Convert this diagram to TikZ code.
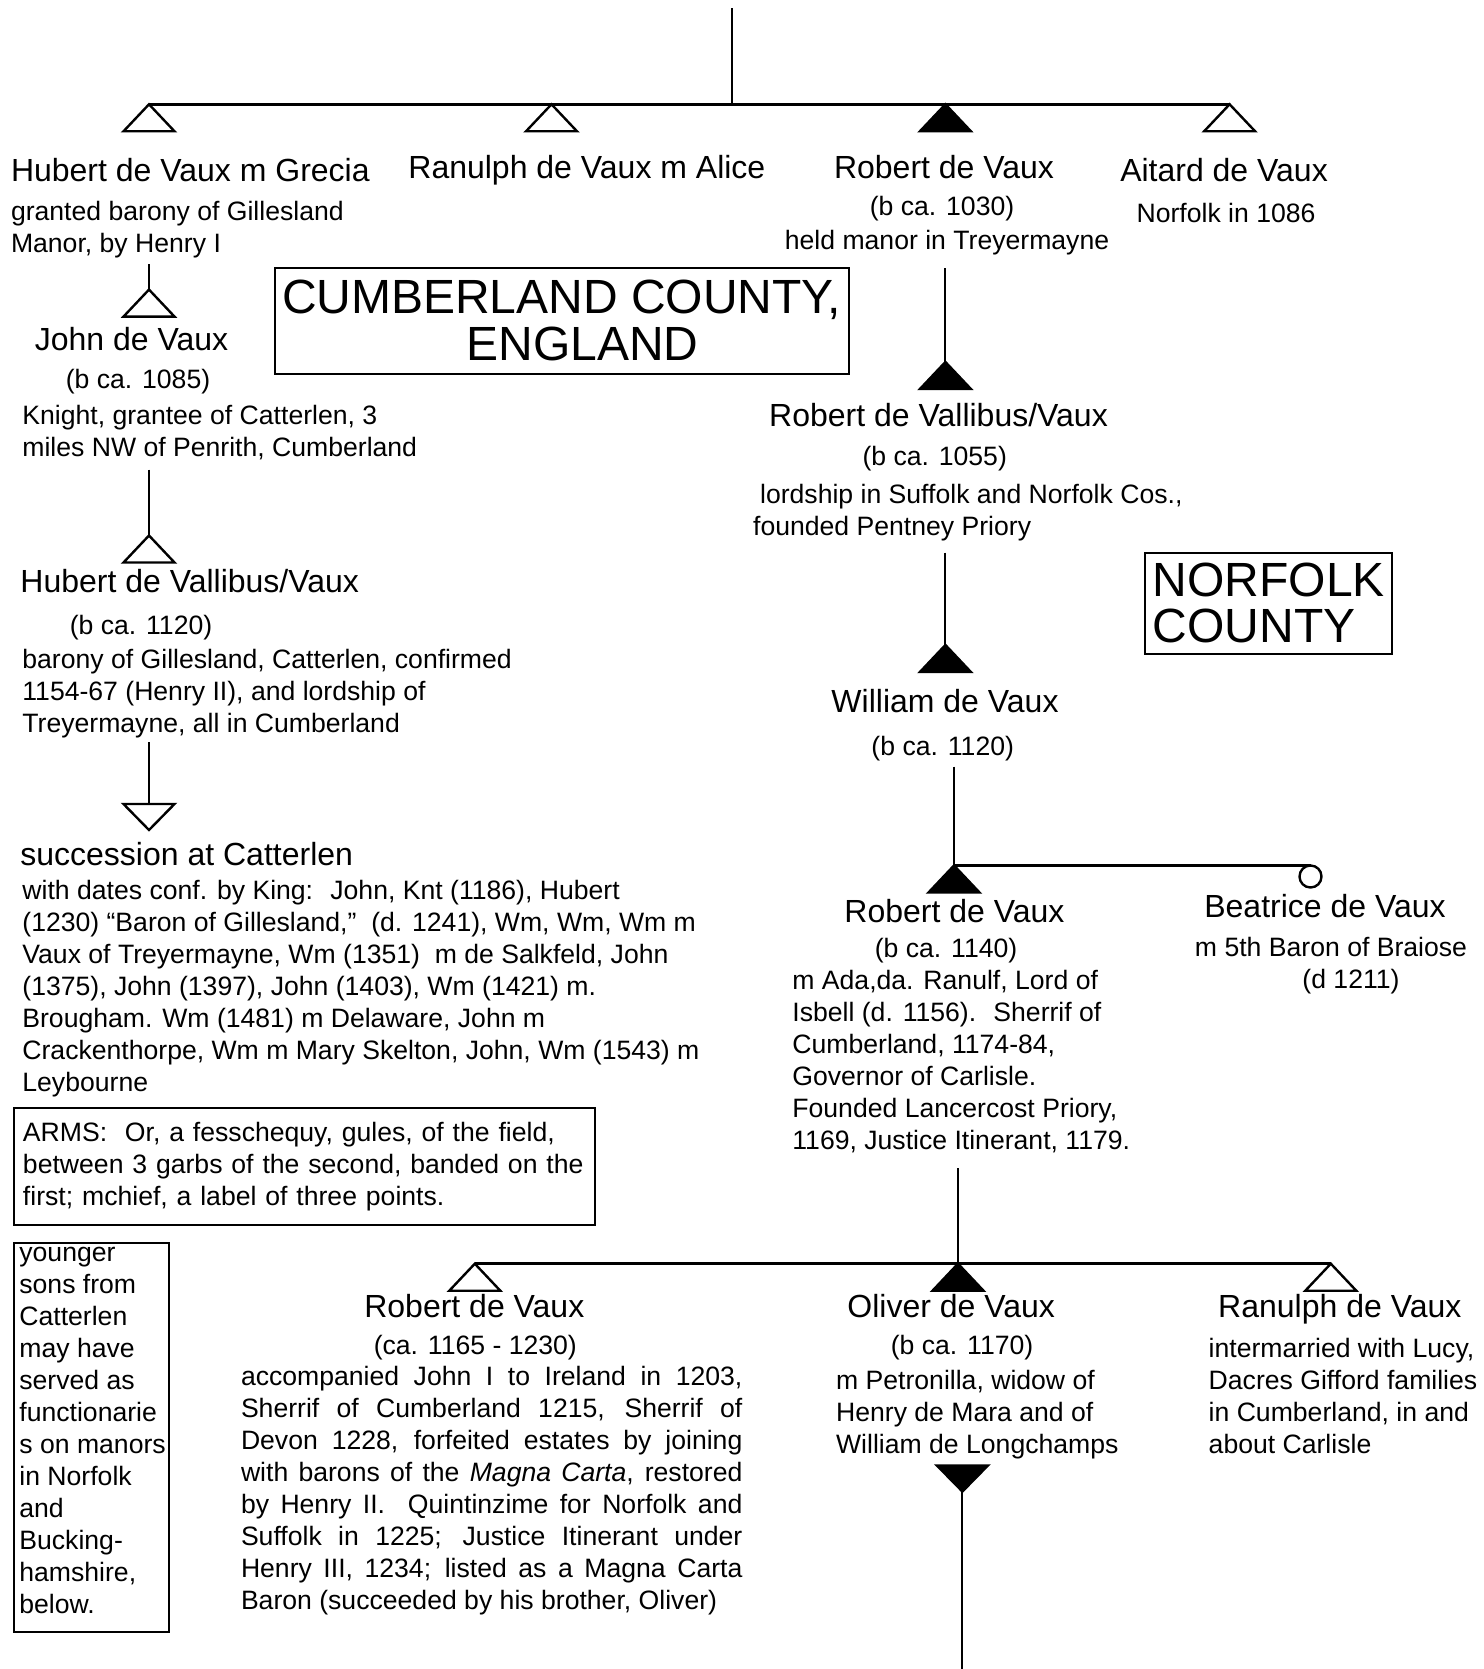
\documentclass[tikz,border=0pt]{standalone}
\usepackage{fontspec}
\setmainfont{Liberation Sans}

\tikzset{
  person/.style={font=\fontsize{16}{19.2}\selectfont, inner sep=0pt, text height=11.8pt, text depth=3.4pt, yshift=-1.6pt},
  detail/.style={font=\fontsize{13.3}{16}\selectfont, inner sep=0pt, text height=9.8pt, text depth=2.8pt, yshift=-1.6pt},
  notes/.style={font=\fontsize{13.3}{16}\selectfont, inner sep=0pt, align=left, anchor=north west, yshift=-1.1pt},
  justnotes/.style={font=\fontsize{13.3}{16}\selectfont, execute at begin node={\tolerance=10000\hyphenpenalty=10000\relax},
    inner sep=0pt, text width=250.7pt, align=justify, anchor=north west, yshift=-1.1pt},
  county/.style={draw, line width=1pt, font=\fontsize{24}{23.4}\selectfont},
  framed/.style={draw, line width=1pt, anchor=north west},
  link/.style={line width=1pt},
  sibbar/.style={line width=1.6pt},
  % pedigree marks
  sonopen/.pic={\draw[line width=1.2pt, fill=white] (0,0) -- (-25.5,27) -- (25.5,27) -- cycle;
    \coordinate (-apex) at (0,0);},
  sonfilled/.pic={\draw[line width=1.2pt, fill=black] (0,0) -- (-25.5,27) -- (25.5,27) -- cycle;
    \coordinate (-apex) at (0,0);},
  heirdown/.pic={\draw[line width=1.2pt, fill=white] (0,0) -- (-25.5,-26) -- (25.5,-26) -- cycle;
    \coordinate (-apex) at (0,0); \coordinate (-base) at (0,-26);},
  heirfilled/.pic={\draw[line width=1.2pt, fill=black] (0,0) -- (-25.5,-26) -- (25.5,-26) -- cycle;
    \coordinate (-apex) at (0,0); \coordinate (-base) at (0,-26);},
  daughter/.pic={\draw[line width=1.2pt, fill=white] (0,11) circle[radius=11];
    \coordinate (-top) at (0,0);},
}

\begin{document}
\begin{tikzpicture}[x=0.5pt, y=-0.5pt]
\useasboundingbox (0,0) rectangle (1483,1669);

% first generation
\coordinate (root) at (732,8.5);
\pic (t-hubert) at (149,104.3) {sonopen};
\pic (t-ranulph) at (551.5,104.3) {sonopen};
\pic (t-robert) at (945.4,104.3) {sonfilled};
\pic (t-aitard) at (1229.6,104.3) {sonopen};
\draw[sibbar] (t-hubert-apex) -- (t-aitard-apex);
\draw[link] (root) -- (root |- t-hubert-apex);

\node[person, anchor=west] (n-hubert) at (10.6,170) {Hubert de Vaux m Grecia};
\node[notes] (i-hubert) at (10.6,198.5) {granted barony of Gillesland\\Manor, by Henry I};
\node[person, anchor=west] (n-ranulph) at (408,167) {Ranulph de Vaux m Alice};
\node[person] (n-robert) at (944,167) {Robert de Vaux};
\node[detail] (d-robert) at (942,205.5) {(b ca. 1030)};
\node[detail] (i-robert) at (947,239.5) {held manor in Treyermayne};
\node[person] (n-aitard) at (1224,170) {Aitard de Vaux};
\node[detail] (i-aitard) at (1226,212) {Norfolk in 1086};

\node[county, minimum width=286.9pt, minimum height=52.9pt, align=center] (cumberland) at (561.6,320.8)
  {CUMBERLAND COUNTY,\\\hspace*{21pt}ENGLAND};
\node[county, anchor=north west, minimum width=123.5pt, minimum height=50.5pt, align=left] (norfolk) at (1144.4,551.5)
  {NORFOLK\\COUNTY};

% Catterlen line
\coordinate (c-hubert) at (149,264);
\pic (t-john) at (149,289.6) {sonopen};
\draw[link] (c-hubert) -- (t-john-apex);
\node[person] (n-john) at (131.5,338.5) {John de Vaux};
\node[detail] (d-john) at (138,378) {(b ca. 1085)};
\node[notes] (i-john) at (22,402.5) {Knight, grantee of Catterlen, 3\\miles NW of Penrith, Cumberland};

\coordinate (c-john) at (149,469.5);
\pic (t-hubert2) at (149,535.5) {sonopen};
\draw[link] (c-john) -- (t-hubert2-apex);
\node[person, anchor=west] (n-hubert2) at (20,581) {Hubert de Vallibus/Vaux};
\node[detail] (d-hubert2) at (141,624) {(b ca. 1120)};
\node[notes] (i-hubert2) at (22,646.5) {barony of Gillesland, Catterlen, confirmed\\1154-67 (Henry II), and lordship of\\Treyermayne, all in Cumberland};

\coordinate (c-hubert2) at (149,742);
\pic (t-succ) at (149,830) {heirdown};
\draw[link] (c-hubert2) -- (t-succ-base);
\node[person, anchor=west] (n-succ) at (20,854) {succession at Catterlen};
\node[notes] (i-succ) at (22,877.5) {with dates conf. by King: \ John, Knt (1186), Hubert\\(1230) “Baron of Gillesland,” \ (d. 1241), Wm, Wm, Wm m\\Vaux of Treyermayne, Wm (1351) \ m de Salkfeld, John\\(1375), John (1397), John (1403), Wm (1421) m.\\Brougham. Wm (1481) m Delaware, John m\\Crackenthorpe, Wm m Mary Skelton, John, Wm (1543) m\\Leybourne};

\node[framed, notes, draw, inner xsep=4.6pt, minimum width=290.6pt, minimum height=58.5pt, text width=281.4pt, yshift=1.1pt] (arms) at (12.8,1107)
  {ARMS: \ Or, a fesschequy, gules, of the field,\\between 3 garbs of the second, banded on the\\first; mchief, a label of three points.};

\node[framed, minimum width=77.6pt, minimum height=194.5pt, inner sep=0pt] (youngbox) at (12.8,1242) {};
\node[notes] (young) at (19,1245) {younger\\sons from\\Catterlen\\may have\\served as\\functionarie\\s on manors\\in Norfolk\\and\\Bucking-\\hamshire,\\below.};

% Norfolk line
\coordinate (c-robert) at (945.4,268);
\pic (t-robert2) at (945.4,362) {sonfilled};
\draw[link] (c-robert) -- (t-robert2-apex);
\node[person] (n-robert2) at (938.5,415) {Robert de Vallibus/Vaux};
\node[detail] (d-robert2) at (934.7,455.6) {(b ca. 1055)};
\node[notes] (i-robert2) at (752.7,481.5) {\hspace*{3.5pt}lordship in Suffolk and Norfolk Cos.,\\founded Pentney Priory};

\coordinate (c-robert2) at (945.4,552.5);
\pic (t-william) at (945.4,645) {sonfilled};
\draw[link] (c-robert2) -- (t-william-apex);
\node[person] (n-william) at (945,700.5) {William de Vaux};
\node[detail] (d-william) at (942.7,745) {(b ca. 1120)};

\coordinate (c-william) at (954,766.5);
\pic (t-robert3) at (954,865.5) {sonfilled};
\pic (t-beatrice) at (1310.5,865.5) {daughter};
\draw[link] (c-william) -- (t-robert3-apex);
\draw[sibbar] (t-robert3-apex) -- (t-beatrice-top);
\node[person] (n-robert3) at (954.4,911.3) {Robert de Vaux};
\node[detail] (d-robert3) at (946,947.5) {(b ca. 1140)};
\node[notes] (i-robert3) at (792,968) {m Ada,da. Ranulf, Lord of\\Isbell (d. 1156). \ Sherrif of\\Cumberland, 1174-84,\\Governor of Carlisle.\\Founded Lancercost Priory,\\1169, Justice Itinerant, 1179.};
\node[person] (n-beatrice) at (1325,906) {Beatrice de Vaux};
\node[detail] (i-beatrice) at (1331,946.4) {m 5th Baron of Braiose};
\node[detail] (d-beatrice) at (1351,978.4) {(d 1211)};

% sons of Robert
\coordinate (c-robert3) at (958,1168);
\pic (t-robert4) at (474.8,1263.7) {sonopen};
\pic (t-oliver) at (958,1263.7) {sonfilled};
\pic (t-ranulph2) at (1330.8,1263.7) {sonopen};
\draw[sibbar] (t-robert4-apex) -- (t-ranulph2-apex);
\draw[link] (c-robert3) -- (t-oliver-apex);

\node[person] (n-robert4) at (474.3,1306) {Robert de Vaux};
\node[detail] (d-robert4) at (475.3,1344.6) {(ca. 1165 - 1230)};
\node[justnotes] (i-robert4) at (240.6,1364) {accompanied John I to Ireland in 1203,\linebreak
  Sherrif of Cumberland 1215, Sherrif of\linebreak
  Devon 1228, forfeited estates by joining\linebreak
  with barons of the \textit{Magna Carta}, restored\linebreak
  by Henry II. \ Quintinzime for Norfolk and\linebreak
  Suffolk in 1225; Justice Itinerant under\linebreak
  Henry III, 1234; listed as a Magna Carta\linebreak
  Baron (succeeded by his brother, Oliver)};

\node[person] (n-oliver) at (951.2,1306) {Oliver de Vaux};
\node[detail] (d-oliver) at (962,1344.6) {(b ca. 1170)};
\node[notes] (i-oliver) at (835.7,1367.2) {m Petronilla, widow of\\Henry de Mara and of\\William de Longchamps};
\pic (t-heir) at (962.4,1491.5) {heirfilled};
\coordinate (c-end) at (962.4,1669);
\draw[link] (t-heir-apex) -- (c-end);

\node[person] (n-ranulph2) at (1339.8,1306) {Ranulph de Vaux};
\node[notes] (i-ranulph2) at (1208.3,1335.3) {intermarried with Lucy,\\Dacres Gifford families\\in Cumberland, in and\\about Carlisle};
\end{tikzpicture}
\end{document}
